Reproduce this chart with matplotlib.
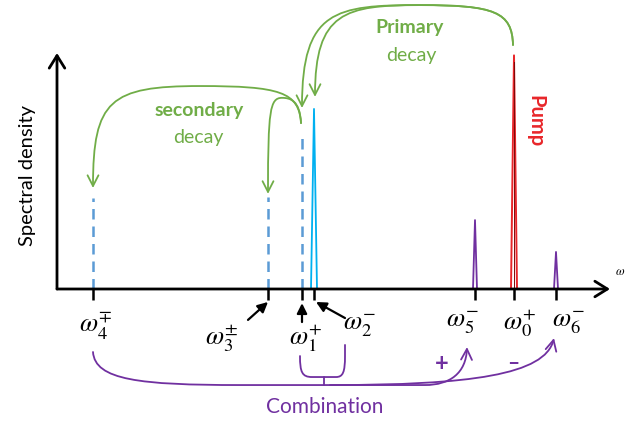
import matplotlib.pyplot as plt
from matplotlib.patches import FancyArrowPatch
from matplotlib.path import Path

# Frequencies of the spectral lines (arbitrary units) and their heights
dashed_w = [0.72, 4.22, 4.90]          # omega_4, omega_3, omega_1 (virtual, dashed)
dashed_h = [0.386, 0.39, 0.665]
signal_w = 5.14                         # omega_2
signal_h = 0.763
pump_w = 9.14                           # omega_0
pump_h = 0.99
comb_w = [8.36, 9.98]                   # omega_5, omega_6
comb_h = [0.292, 0.157]

tick_w = [0.72, 4.22, 4.90, 5.14, 8.36, 9.14, 9.98]
tick_labels = [r'$\omega_4^{\mp}$', r'$\omega_3^{\pm}$', r'$\omega_1^{+}$', r'$\omega_2^{-}$',
               r'$\omega_5^{-}$', r'$\omega_0^{+}$', r'$\omega_6^{-}$']
# label offsets from the tick (dx in freq units, y below axis)
label_dx = [0.06, -0.92, 0.08, 0.92, -0.24, 0.12, 0.26]
label_y = [-0.16, -0.21, -0.21, -0.155, -0.145, -0.145, -0.145]

GREEN = '#70AD47'
BLUE = '#5B9BD5'
CYAN = '#00B0F0'
RED = '#E8262A'
PURPLE = '#7030A0'

plt.rcParams['font.family'] = ['Lato', 'DejaVu Sans']
plt.rcParams['mathtext.fontset'] = 'stix'

fig = plt.figure(figsize=(6.4, 4.21), dpi=100)
ax = fig.add_axes([57 / 640, 132 / 421, 553 / 640, 236 / 421])
ax.set_xlim(0, 11.06)
ax.set_ylim(0, 1)
for s in ax.spines.values():
    s.set_visible(False)
ax.set_yticks([])
ax.set_xticks(tick_w)
ax.tick_params(axis='x', length=8, width=1.8, color='black', labelbottom=False)

# axes with arrow heads
axis_arrow = dict(arrowstyle='->,head_length=0.45,head_width=0.28', lw=2.0,
                  color='black', shrinkA=0, shrinkB=0, mutation_scale=20)
ax.annotate('', xy=(1.0, 0), xytext=(0, 0), xycoords='axes fraction', arrowprops=axis_arrow)
ax.annotate('', xy=(0, 1.0), xytext=(0, 0), xycoords='axes fraction', arrowprops=axis_arrow)
ax.text(11.16, 0.05, r'$\omega$', fontsize=9, ha='left', va='bottom')
ax.text(-0.6, 0.479, 'Spectral density', rotation=90, fontsize=14.5,
        ha='center', va='center')

# dashed (secondary) lines
for w, h in zip(dashed_w, dashed_h):
    ax.plot([w, w], [0, h], color=BLUE, lw=1.8, dashes=(4.2, 2.8), solid_capstyle='butt')

# narrow peaks
ax.plot([signal_w - 0.06, signal_w, signal_w + 0.06], [0, signal_h, 0], color=CYAN, lw=1.3)
ax.plot([pump_w - 0.06, pump_w, pump_w + 0.06], [0, pump_h, 0], color=RED, lw=1.4)
ax.plot([pump_w, pump_w], [0, pump_h * 0.97], color='#7A0A0A', lw=0.7)
for w, h in zip(comb_w, comb_h):
    ax.plot([w - 0.04, w, w + 0.04], [0, h, 0], color=PURPLE, lw=1.3)

# tick labels
for w, lab, dx, y in zip(tick_w, tick_labels, label_dx, label_y):
    ax.text(w + dx, y, lab, fontsize=19, ha='center', va='center', clip_on=False)

# small black pointer arrows for crowded labels
ptr = dict(arrowstyle='-|>,head_length=0.5,head_width=0.25', lw=1.6, color='black',
           shrinkA=0, shrinkB=0, mutation_scale=12)
ax.annotate('', xy=(tick_w[1], -0.055), xytext=(tick_w[1] - 0.40, -0.131), arrowprops=ptr,
            annotation_clip=False)
ax.annotate('', xy=(tick_w[2], -0.06), xytext=(tick_w[2], -0.14), arrowprops=ptr,
            annotation_clip=False)
ax.annotate('', xy=(tick_w[3] + 0.04, -0.055), xytext=(tick_w[3] + 0.62, -0.123), arrowprops=ptr,
            annotation_clip=False)


def path_arrow(verts, codes, color, head=True, lw=1.3):
    style = '->,head_length=0.55,head_width=0.28' if head else '-'
    p = FancyArrowPatch(path=Path(verts, codes), arrowstyle=style, color=color, lw=lw,
                        mutation_scale=14, transform=ax.transData, clip_on=False)
    ax.add_patch(p)


M, C, L = Path.MOVETO, Path.CURVE4, Path.LINETO

# primary decay: pump -> omega_1 and omega_2
top = 1.203
start = (pump_w - 0.02, 1.034)
path_arrow([start, (9.10, 1.174), (8.76, top), (7.26, top),
            (5.56, top), (dashed_w[2], 1.182), (dashed_w[2], 0.767)],
           [M, C, C, C, C, C, C], GREEN)
path_arrow([start, (9.10, 1.174), (8.76, top), (7.26, top),
            (5.76, top), (signal_w + 0.02, 1.174), (signal_w + 0.02, 0.814)],
           [M, C, C, C, C, C, C], GREEN)
ax.text(7.06, 1.11, 'Primary', color=GREEN, fontsize=14, fontweight='bold',
        ha='center', va='center', clip_on=False)
ax.text(7.08, 0.99, 'decay', color=GREEN, fontsize=14, ha='center', va='center', clip_on=False)

# secondary decay: omega_1 -> omega_4 and omega_3
s0 = (dashed_w[2] - 0.02, 0.703)
path_arrow([s0, (4.84, 0.835), (4.46, 0.86), (2.86, 0.86),
            (1.06, 0.86), (dashed_w[0], 0.80), (dashed_w[0], 0.428)],
           [M, C, C, C, C, C, C], GREEN)
path_arrow([s0, (4.86, 0.80), (4.66, 0.81), (4.50, 0.81),
            (4.26, 0.81), (dashed_w[1], 0.758), (dashed_w[1], 0.403)],
           [M, C, C, C, C, C, C], GREEN)
ax.text(2.84, 0.758, 'secondary', color=GREEN, fontsize=14, fontweight='bold',
        ha='center', va='center')
ax.text(2.82, 0.644, 'decay', color=GREEN, fontsize=14, ha='center', va='center')

ax.text(9.56, 0.712, 'Pump', color=RED, fontsize=14.5, fontweight='bold', rotation=-90,
        ha='center', va='center')

# combination brace and arrows
path_arrow([(4.86, -0.284), (4.86, -0.352), (4.90, -0.373), (5.10, -0.373),
            (5.58, -0.373), (5.72, -0.373), (5.76, -0.352), (5.76, -0.284),
            (5.76, -0.237)],
           [M, C, C, C, L, C, C, C, L], PURPLE, head=False)
path_arrow([(5.34, -0.373), (5.34, -0.407)], [M, L], PURPLE, head=False)
path_arrow([(dashed_w[0], -0.267), (0.76, -0.386), (1.66, -0.407), (3.66, -0.407),
            (5.46, -0.407), (7.36, -0.407),
            (7.86, -0.407), (8.18, -0.356), (comb_w[0] - 0.16, -0.246)],
           [M, C, C, C, L, L, C, C, C], PURPLE)
path_arrow([(5.46, -0.407), (8.26, -0.407), (9.76, -0.364), (comb_w[1] - 0.04, -0.208)],
           [M, C, C, C], PURPLE)
ax.text(7.70, -0.314, '+', color=PURPLE, fontsize=17, fontweight='bold',
        ha='center', va='center', clip_on=False)
ax.text(9.12, -0.314, '–', color=PURPLE, fontsize=15, fontweight='bold',
        ha='center', va='center', clip_on=False)
ax.text(5.36, -0.50, 'Combination', color=PURPLE, fontsize=15,
        ha='center', va='center', clip_on=False)

fig.savefig('out.png', dpi=100)
